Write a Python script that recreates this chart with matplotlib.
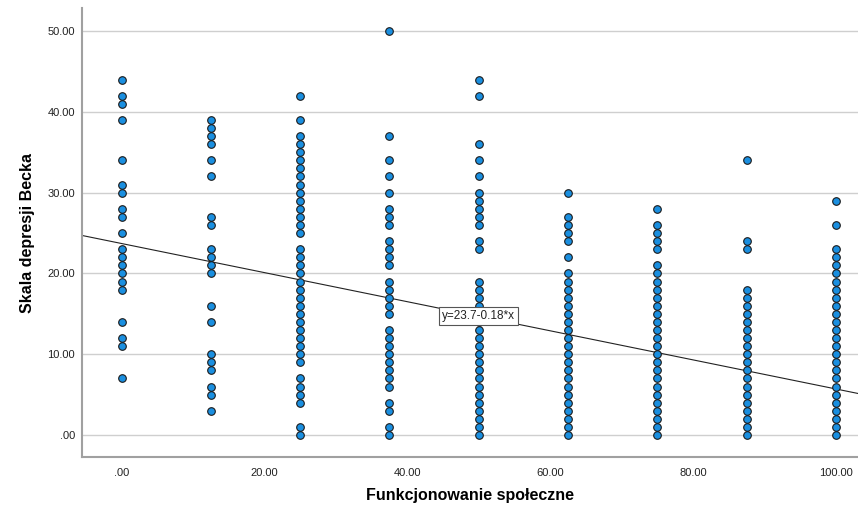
import numpy as np
import matplotlib.pyplot as plt

# x levels of "Funkcjonowanie społeczne" and the Beck scores seen at each level
x_levels = [0.0, 12.5, 25.0, 37.5, 50.0, 62.5, 75.0, 87.5, 100.0]

y_at_0 = [44, 42, 41, 39, 34, 31, 30, 28, 27, 25, 23, 22, 21, 20, 19, 18, 14, 12, 11, 7]
y_at_12 = [39, 38, 37, 36, 34, 32, 27, 26, 23, 22, 21, 20, 16, 14, 10, 9, 8, 6, 5, 3]
y_at_25 = [42, 39, 37, 36, 35, 34, 33, 32, 31, 30, 29, 28, 27, 26, 25,
           23, 22, 21, 20, 19, 18, 17, 16, 15, 14, 13, 12, 11, 10, 9,
           7, 6, 5, 4, 1, 0]
y_at_37 = [50, 37, 34, 32, 30, 28, 27, 26, 24, 23, 22, 21, 19, 18, 17, 16, 15,
           13, 12, 11, 10, 9, 8, 7, 6, 4, 3, 1, 0]
y_at_50 = [44, 42, 36, 34, 32, 30, 29, 28, 27, 26, 24, 23,
           19, 18, 17, 16, 15, 14, 13, 12, 11, 10, 9, 8, 7, 6, 5, 4, 3, 2, 1, 0]
y_at_62 = [30, 27, 26, 25, 24, 22,
           20, 19, 18, 17, 16, 15, 14, 13, 12, 11, 10, 9, 8, 7, 6, 5, 4, 3, 2, 1, 0]
y_at_75 = [28, 26, 25, 24, 23,
           21, 20, 19, 18, 17, 16, 15, 14, 13, 12, 11, 10, 9, 8, 7, 6, 5, 4, 3, 2, 1, 0]
y_at_87 = [34, 24, 23,
           18, 17, 16, 15, 14, 13, 12, 11, 10, 9, 8, 7, 6, 5, 4, 3, 2, 1, 0]
y_at_100 = [29, 26,
            23, 22, 21, 20, 19, 18, 17, 16, 15, 14, 13, 12, 11, 10, 9, 8, 7, 6, 5, 4, 3, 2, 1, 0]

columns = [y_at_0, y_at_12, y_at_25, y_at_37, y_at_50, y_at_62, y_at_75, y_at_87, y_at_100]

# fit line as printed on the chart
intercept = 23.7
slope = -0.18
fit_label = "y=23.7-0.18*x"

x_ticks = [0, 20, 40, 60, 80, 100]
y_ticks = [0, 10, 20, 30, 40, 50]


def fmt(v):
    """SPSS style labels: .00, 20.00 ..."""
    s = f"{v:.2f}"
    return s[1:] if s.startswith("0") else s


plt.rcParams['font.family'] = ['Liberation Sans', 'DejaVu Sans']

fig = plt.figure(figsize=(8.58, 5.11), dpi=100)
ax = fig.add_axes([0.0956, 0.1057, 0.9044, 0.8786])

xs = np.concatenate([[x] * len(col) for x, col in zip(x_levels, columns)])
ys = np.concatenate([np.array(col, dtype=float) for col in columns])

ax.set_xlim(-5.55, 103.1)
ax.set_ylim(-2.72, 52.85)

# gridlines
for t in y_ticks:
    ax.axhline(t, color='#cfcfcf', linewidth=1.0, zorder=0)

# regression line
line_x = np.array(ax.get_xlim())
ax.plot(line_x, intercept + slope * line_x, color='#222222', linewidth=0.8, zorder=2)

ax.scatter(xs, ys, s=30, facecolor='#1a8fe0', edgecolor='#1a1a1a',
           linewidth=0.8, zorder=3)

ax.text(50, intercept + slope * 50, fit_label, ha='center', va='center',
        fontsize=8.5, color='#222222', zorder=4,
        bbox=dict(boxstyle='square,pad=0.25', facecolor='white',
                  edgecolor='#555555', linewidth=0.8))

ax.set_xticks(x_ticks)
ax.set_xticklabels([fmt(v) for v in x_ticks])
ax.set_yticks(y_ticks)
ax.set_yticklabels([fmt(v) for v in y_ticks])
ax.tick_params(length=0, labelsize=8, colors='#222222', pad=5)
ax.tick_params(axis='x', pad=8)

for side in ('top', 'right'):
    ax.spines[side].set_visible(False)
for side in ('left', 'bottom'):
    ax.spines[side].set_color('#a0a0a0')
    ax.spines[side].set_linewidth(1.5)

ax.set_xlabel("Funkcjonowanie społeczne", fontsize=11.5, labelpad=7,
              fontweight='semibold')
ax.set_ylabel("Skala depresji Becka", fontsize=11.5, labelpad=9,
              fontweight='semibold')

fig.savefig("out.png", dpi=100)
